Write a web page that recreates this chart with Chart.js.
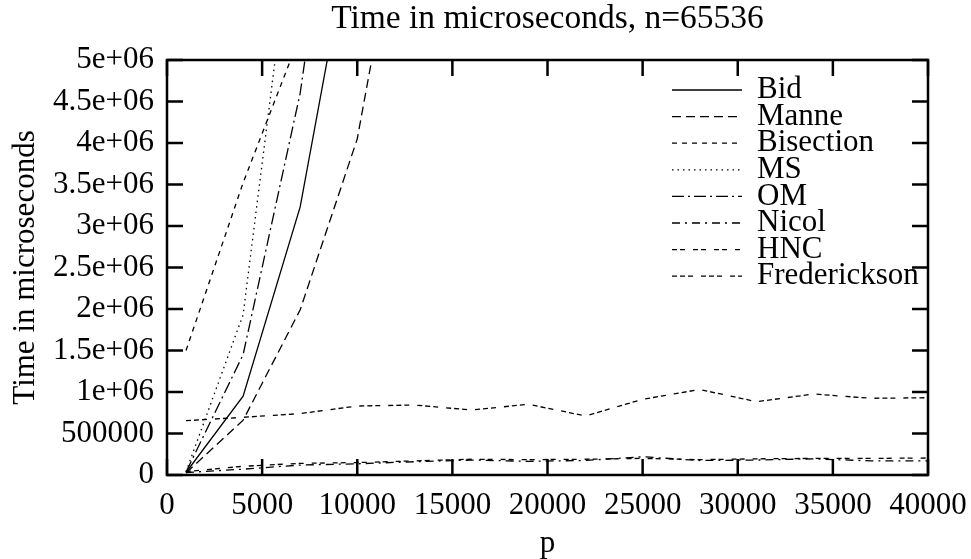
<!DOCTYPE html>
<html>
<head>
<meta charset="utf-8">
<script src="https://cdn.jsdelivr.net/npm/chart.js@4.4.0/dist/chart.umd.min.js"></script>
<style>
  html, body { margin: 0; padding: 0; background: #fff; }
</style>
</head>
<body>
<canvas id="grafico" width="971" height="559"></canvas>
<script>
  // valores de p no eixo x
  const pValues = [1000, 4000, 7000, 10000, 13000, 16000, 19000, 22000, 25000, 28000, 31000, 34000, 37000, 40000];

  // tempos em microssegundos (null = fora da escala)
  const bid = [30000, 950000, 3230000, 6960000, null, null, null, null, null, null, null, null, null, null];
  const manne = [25000, 660000, 1990000, 4050000, 7800000, null, null, null, null, null, null, null, null, null];
  const bisection = [1500000, 3520000, 5300000, null, null, null, null, null, null, null, null, null, null, null];
  const ms = [40000, 1930000, 7400000, null, null, null, null, null, null, null, null, null, null, null];
  const om = [35000, 1450000, 4600000, 9400000, null, null, null, null, null, null, null, null, null, null];
  const nicol = [30000, 70000, 120000, 135000, 160000, 180000, 165000, 175000, 220000, 175000, 180000, 195000, 170000, 170000];
  const hnc = [40000, 105000, 140000, 150000, 170000, 190000, 185000, 190000, 200000, 185000, 195000, 200000, 200000, 205000];
  const frederickson = [654000, 695000, 740000, 831000, 843000, 783000, 852000, 711000, 912000, 1030000, 883000, 976000, 924000, 931000];

  const nomes = ['Bid', 'Manne', 'Bisection', 'MS', 'OM', 'Nicol', 'HNC', 'Frederickson'];
  const series = [bid, manne, bisection, ms, om, nicol, hnc, frederickson];
  const tracos = [[], [9, 5], [5, 5], [1.5, 4], [12, 4, 2, 4], [8, 5, 2, 5], [5, 3, 5, 8], [5, 3, 5, 3, 5, 8]];

  const xTickLabels = ['0', '5000', '10000', '15000', '20000', '25000', '30000', '35000', '40000'];
  const yTickLabels = ['0', '500000', '1e+06', '1.5e+06', '2e+06', '2.5e+06', '3e+06', '3.5e+06', '4e+06', '4.5e+06', '5e+06'];

  const fonte = 'Liberation Serif';
  Chart.defaults.font.family = fonte;
  Chart.defaults.color = '#000';

  // moldura e marcas de escala para dentro (estilo gnuplot)
  const moldura = {
    id: 'moldura',
    afterDatasetsDraw(chart) {
      const { ctx, chartArea: a, scales: { x, y } } = chart;
      ctx.save();
      ctx.strokeStyle = '#000';
      ctx.lineWidth = 2.5;
      ctx.beginPath();
      x.ticks.forEach(t => {
        const px = x.getPixelForValue(t.value);
        ctx.moveTo(px, a.bottom); ctx.lineTo(px, a.bottom - 16);
        ctx.moveTo(px, a.top); ctx.lineTo(px, a.top + 16);
      });
      y.ticks.forEach(t => {
        const py = y.getPixelForValue(t.value);
        ctx.moveTo(a.left, py); ctx.lineTo(a.left + 16, py);
        ctx.moveTo(a.right, py); ctx.lineTo(a.right - 16, py);
      });
      ctx.stroke();
      ctx.strokeRect(a.left, a.top, a.right - a.left, a.bottom - a.top);
      ctx.restore();
    }
  };

  // legenda dentro da área do gráfico
  const legendaInterna = {
    id: 'legendaInterna',
    afterDatasetsDraw(chart) {
      const { ctx, chartArea: a } = chart;
      ctx.save();
      ctx.font = '31px "' + fonte + '"';
      ctx.textBaseline = 'middle';
      ctx.fillStyle = '#000';
      chart.data.datasets.forEach((ds, i) => {
        const yy = a.top + 30 + i * 26.6;
        ctx.strokeStyle = '#000';
        ctx.lineWidth = ds.borderWidth;
        ctx.setLineDash(ds.borderDash);
        ctx.beginPath();
        ctx.moveTo(a.right - 256, yy);
        ctx.lineTo(a.right - 186, yy);
        ctx.stroke();
        ctx.setLineDash([]);
        ctx.fillText(ds.label, a.right - 171, yy);
      });
      ctx.restore();
    }
  };

  // título
  const titulo = {
    id: 'titulo',
    afterDraw(chart) {
      const { ctx, chartArea: a } = chart;
      ctx.save();
      ctx.font = '33.5px "' + fonte + '"';
      ctx.textAlign = 'center';
      ctx.textBaseline = 'middle';
      ctx.fillStyle = '#000';
      ctx.fillText('Time in microseconds, n=65536', (a.left + a.right) / 2, 19);
      ctx.restore();
    }
  };

  const datasets = series.map((s, i) => ({
    label: nomes[i],
    data: s.map((v, j) => ({ x: pValues[j], y: v })),
    borderColor: '#000',
    borderWidth: 1.3,
    borderDash: tracos[i],
    pointRadius: 0,
    fill: false,
    tension: 0
  }));

  const config = {
    type: 'line',
    data: { datasets },
    options: {
      responsive: false,
      animation: false,
      layout: { padding: { top: 60, right: 43, bottom: 0, left: 0 } },
      plugins: {
        legend: { display: false },
        title: { display: false },
        tooltip: { enabled: false }
      },
      scales: {
        x: {
          type: 'linear',
          min: 0,
          max: 40000,
          grid: { display: false, drawTicks: false },
          border: { display: false },
          ticks: {
            stepSize: 5000,
            autoSkip: false,
            maxRotation: 0,
            padding: 12,
            font: { size: 31 },
            callback: (v, i) => xTickLabels[i]
          },
          title: { display: true, text: 'p', font: { size: 31, lineHeight: 1.0 }, padding: 0 },
          afterFit: s => { s.height = 84; s.paddingLeft = 0; s.paddingRight = 0; }
        },
        y: {
          min: 0,
          max: 5000000,
          grid: { display: false, drawTicks: false },
          border: { display: false },
          ticks: {
            stepSize: 500000,
            autoSkip: false,
            padding: 13,
            font: { size: 31 },
            callback: (v, i) => yTickLabels[i]
          },
          title: { display: true, text: 'Time in microseconds', font: { size: 31 }, padding: { top: 7, bottom: 0 } },
          afterFit: s => { s.width = 167; s.paddingTop = 0; s.paddingBottom = 0; }
        }
      }
    },
    plugins: [moldura, legendaInterna, titulo]
  };

  const grafico = new Chart(document.getElementById('grafico').getContext('2d'), config);
</script>
</body>
</html>
